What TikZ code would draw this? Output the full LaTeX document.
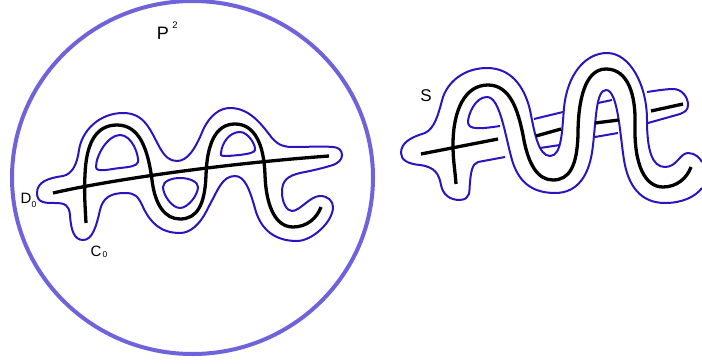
\documentclass[tikz,border=0pt]{standalone}
\usepackage{fontspec}
\setmainfont{Liberation Sans}
\definecolor{SphereBlue}{HTML}{6F63DC}
\definecolor{TubeBlue}{HTML}{2A14C0}
\begin{document}
\begin{tikzpicture}[x=1pt,y=-1pt,
  sphere/.style={draw=SphereBlue,line width=4pt},
  tube/.style={draw=TubeBlue,line width=2pt,line join=round},
  curve/.style={draw=black,line width=3.3pt},
  lab/.style={font=\fontsize{15}{17}\selectfont,inner sep=0pt},
  sub/.style={font=\fontsize{8.5}{10}\selectfont,inner sep=0pt},
]
\useasboundingbox (0,0) rectangle (702,364);
\draw[sphere] (192.5,177.5) ellipse (180.5 and 176.5);
% left picture
\draw[tube] (37,193) .. controls (37,182) and (48,178) .. (63,176)
  .. controls (72,174) and (77,165) .. (79,150)
  .. controls (82,130) and (100,113) .. (123,113)
  .. controls (145,113) and (150,130) .. (160,148)
  .. controls (165,157) and (170,161) .. (177,161)
  .. controls (187,161) and (195,150) .. (203,130)
  .. controls (210,115) and (220,108) .. (230,108)
  .. controls (250,108) and (262,125) .. (272,138)
  .. controls (279,146) and (285,147) .. (293,147)
  .. controls (310,147) and (320,146) .. (333,147)
  .. controls (339,147) and (342,151) .. (342,155)
  .. controls (342,160) and (338,163) .. (333,165)
  .. controls (320,169) and (310,171) .. (300,173)
  .. controls (288,176) and (282,180) .. (282,192)
  .. controls (282,203) and (287,211) .. (292,211)
  .. controls (300,211) and (310,196) .. (320,196)
  .. controls (328,196) and (333,201) .. (333,207)
  .. controls (333,222) and (312,241) .. (297,241)
  .. controls (275,241) and (262,230) .. (256,212)
  .. controls (250,190) and (245,176) .. (235,176)
  .. controls (222,176) and (218,190) .. (208,208)
  .. controls (200,225) and (190,233) .. (180,233)
  .. controls (160,233) and (150,222) .. (143,207)
  .. controls (138,196) and (135,193) .. (125,193)
  .. controls (110,193) and (103,198) .. (100,210)
  .. controls (96,228) and (92,240) .. (83,240)
  .. controls (75,240) and (71,232) .. (70,215)
  .. controls (69,205) and (65,203) .. (55,203)
  .. controls (45,203) and (37,203) .. (37,193) -- cycle;
\draw[tube] (96,167) .. controls (96,155) and (108,135) .. (120,135)
  .. controls (132,135) and (139,155) .. (138,162)
  .. controls (137,166) and (130,167) .. (120,168)
  .. controls (110,169) and (96,173) .. (96,167) -- cycle;
\draw[tube] (221,153) .. controls (222,142) and (230,132) .. (240,132)
  .. controls (248,132) and (256,145) .. (255,150)
  .. controls (254,154) and (240,155) .. (228,156)
  .. controls (222,156) and (220,156) .. (221,153) -- cycle;
\draw[tube] (163,187) .. controls (163,181) and (172,178) .. (180,178)
  .. controls (190,178) and (198,182) .. (198,187)
  .. controls (198,195) and (188,208) .. (180,208)
  .. controls (172,208) and (163,195) .. (163,187) -- cycle;
\draw[curve] (86,223) .. controls (85,205) and (84,190) .. (85,175)
  .. controls (86,145) and (95,125) .. (117,125)
  .. controls (140,125) and (148,150) .. (152,180)
  .. controls (155,205) and (165,219) .. (180,219)
  .. controls (197,219) and (205,205) .. (206,175)
  .. controls (207,145) and (215,124) .. (235,124)
  .. controls (255,124) and (264,145) .. (265,175)
  .. controls (266,205) and (275,227) .. (293,227)
  .. controls (307,227) and (317,218) .. (321,207);
\draw[curve] (53,193) .. controls (110,180) and (220,164) .. (329,156);
\node[lab,font=\fontsize{18}{20}\selectfont] (planename) at (163,33) {P};
\node[sub,font=\fontsize{9.5}{11}\selectfont] (planeexp) at (175,25) {2};
\node[lab] (dname) at (26,198) {D};
\node[sub] (dsub) at (34,205) {0};
\node[lab] (cname) at (96,251) {C};
\node[sub] (csub) at (105,255) {0};
% right picture
\draw[tube] (505,157) -- (478,162) .. controls (472,164) and (471,172) .. (470,182)
  .. controls (469,192) and (471,199) .. (460,200)
  .. controls (450,200) and (443,195) .. (441,185)
  .. controls (439,174) and (435,167) .. (420,165)
  .. controls (408,164) and (401,160) .. (401,153)
  .. controls (401,142) and (412,137) .. (425,133)
  .. controls (435,128) and (438,115) .. (443,97)
  .. controls (450,78) and (468,68) .. (487,68)
  .. controls (510,68) and (524,85) .. (530,110)
  .. controls (534,130) and (538,156) .. (550,156)
  .. controls (562,156) and (562,130) .. (564,108)
  .. controls (567,75) and (585,53) .. (607,53)
  .. controls (630,53) and (647,85) .. (647,120)
  .. controls (647,150) and (652,167) .. (665,167)
  .. controls (677,167) and (680,153) .. (688,153)
  .. controls (695,153) and (700,158) .. (702,162);
\draw[tube] (702,188) .. controls (695,197) and (682,203) .. (665,203)
  .. controls (640,203) and (628,185) .. (624,160)
  .. controls (620,135) and (618,90) .. (606,90)
  .. controls (596,90) and (596,120) .. (593,145)
  .. controls (590,175) and (578,193) .. (555,193)
  .. controls (530,193) and (518,180) .. (512,160)
  .. controls (505,135) and (500,97) .. (487,97)
  .. controls (475,97) and (468,115) .. (468,122)
  .. controls (468,130) and (480,129) .. (500,126);
\draw[tube] (534,119) -- (563,112);
\draw[tube] (540,148) -- (560,145);
\draw[tube] (598,103) -- (612,100);
\draw[tube] (595,137) -- (618,133);
\draw[tube] (647,92) .. controls (660,90) and (668,89) .. (673,89)
  .. controls (682,89) and (688,97) .. (688,105)
  .. controls (688,110) and (685,112) .. (680,114) -- (648,123);
\draw[curve] (456,184) .. controls (455,170) and (453,160) .. (453,145)
  .. controls (453,110) and (465,85) .. (488,85)
  .. controls (510,85) and (518,110) .. (523,135)
  .. controls (528,165) and (538,180) .. (553,180)
  .. controls (570,180) and (577,165) .. (578,135)
  .. controls (578,100) and (585,69) .. (606,69)
  .. controls (628,69) and (636,95) .. (635,125)
  .. controls (634,165) and (645,187) .. (663,187)
  .. controls (677,187) and (687,178) .. (691,167);
\draw[curve] (421,154) -- (498,139);
\draw[curve] (536,136) -- (561,129);
\draw[curve] (595,123) -- (619,120);
\draw[curve] (651,111) -- (683,104);
\node[lab,font=\fontsize{17}{19}\selectfont] (sname) at (426,96) {S};
\end{tikzpicture}
\end{document}
